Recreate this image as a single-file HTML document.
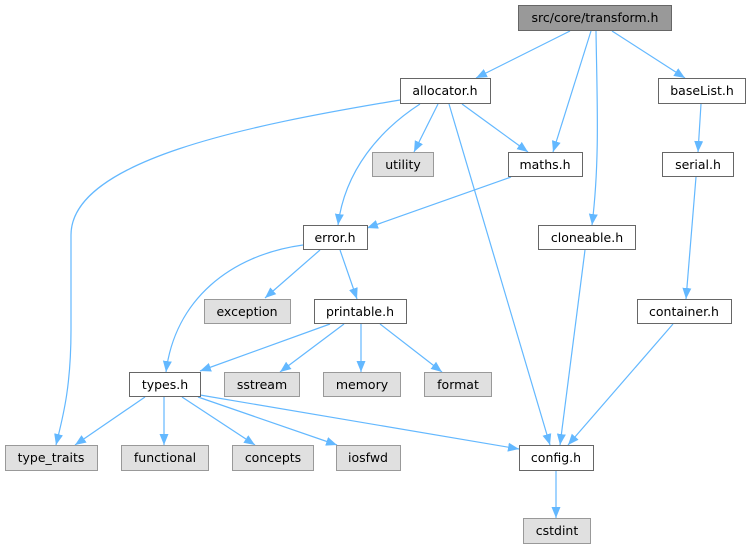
<!DOCTYPE html>
<html><head><meta charset="utf-8"><style>
html,body{margin:0;padding:0;background:#fff;width:751px;height:549px;overflow:hidden}
text{font-family:"DejaVu Sans","Liberation Sans",sans-serif;font-size:12.5px;fill:#000}
</style></head><body>
<svg width="751" height="549" viewBox="0 0 751 549" xmlns="http://www.w3.org/2000/svg">
<defs>
<marker id="a" markerUnits="userSpaceOnUse" markerWidth="12" markerHeight="10" refX="11" refY="5" orient="auto">
<path d="M0,0.5 L11,5 L0,9.5 z" fill="#63b8ff"/>
</marker>
</defs>
<g fill="none" stroke="#63b8ff" stroke-width="1.2" marker-end="url(#a)">
<path d="M570,31 L476,78"/>
<path d="M591,31 L553,152"/>
<path d="M596,31 C597,100 600,160 592,225"/>
<path d="M612,31 L685,78"/>
<path d="M400,100 C250,125 71,160 71,235 L71,330 C71,390 62,420 56,445"/>
<path d="M438,104 L414,152"/>
<path d="M462,104 L528,152"/>
<path d="M420,104 C380,130 345,170 338,225"/>
<path d="M449,104 L550,445"/>
<path d="M511,177 L367,228"/>
<path d="M701,104 L698,152"/>
<path d="M696,177 L686,299"/>
<path d="M585,250 L560,445"/>
<path d="M673,324 L568,445"/>
<path d="M303,245 C230,255 175,300 166,372"/>
<path d="M320,250 L265,298"/>
<path d="M340,250 L357,299"/>
<path d="M330,324 L200,371"/>
<path d="M344,324 L280,372"/>
<path d="M361,324 L361,372"/>
<path d="M380,324 L442,372"/>
<path d="M145,397 L75,445"/>
<path d="M164,397 L164,445"/>
<path d="M182,397 L255,445"/>
<path d="M198,397 L337,445"/>
<path d="M200,395 L519,449"/>
<path d="M556,471 L556,518"/>
</g>
<g stroke-width="1">
<rect x="518.5" y="5.5" width="153" height="25" fill="#999" stroke="#666"/>
<g fill="#fff" stroke="#666">
<rect x="400.5" y="78.5" width="90" height="25"/>
<rect x="658.5" y="78.5" width="87" height="25"/>
<rect x="508.5" y="152.5" width="74" height="24"/>
<rect x="662.5" y="152.5" width="71" height="24"/>
<rect x="303.5" y="225.5" width="64" height="24"/>
<rect x="538.5" y="225.5" width="97" height="24"/>
<rect x="314.5" y="299.5" width="92" height="24"/>
<rect x="637.5" y="299.5" width="94" height="24"/>
<rect x="129.5" y="372.5" width="71" height="24"/>
<rect x="519.5" y="445.5" width="74" height="25"/>
</g>
<g fill="#e0e0e0" stroke="#999">
<rect x="372.5" y="152.5" width="61" height="24"/>
<rect x="204.5" y="299.5" width="86" height="24"/>
<rect x="224.5" y="372.5" width="75" height="24"/>
<rect x="323.5" y="372.5" width="77" height="24"/>
<rect x="424.5" y="372.5" width="67" height="24"/>
<rect x="5.5" y="445.5" width="92" height="25"/>
<rect x="121.5" y="445.5" width="87" height="25"/>
<rect x="232.5" y="445.5" width="81" height="25"/>
<rect x="336.5" y="445.5" width="64" height="25"/>
<rect x="523.5" y="518.5" width="67" height="25"/>
</g>
</g>
<g text-anchor="middle">
<text x="595" y="22">src/core/transform.h</text>
<text x="445" y="95">allocator.h</text>
<text x="702" y="95">baseList.h</text>
<text x="403" y="169">utility</text>
<text x="545" y="169">maths.h</text>
<text x="698" y="169">serial.h</text>
<text x="335" y="242">error.h</text>
<text x="587" y="242">cloneable.h</text>
<text x="247" y="316">exception</text>
<text x="360" y="316">printable.h</text>
<text x="684" y="316">container.h</text>
<text x="165" y="389">types.h</text>
<text x="262" y="389">sstream</text>
<text x="362" y="389">memory</text>
<text x="458" y="389">format</text>
<text x="51" y="462">type_traits</text>
<text x="165" y="462">functional</text>
<text x="273" y="462">concepts</text>
<text x="368" y="462">iosfwd</text>
<text x="556" y="462">config.h</text>
<text x="557" y="535">cstdint</text>
</g>
</svg>
</body></html>
